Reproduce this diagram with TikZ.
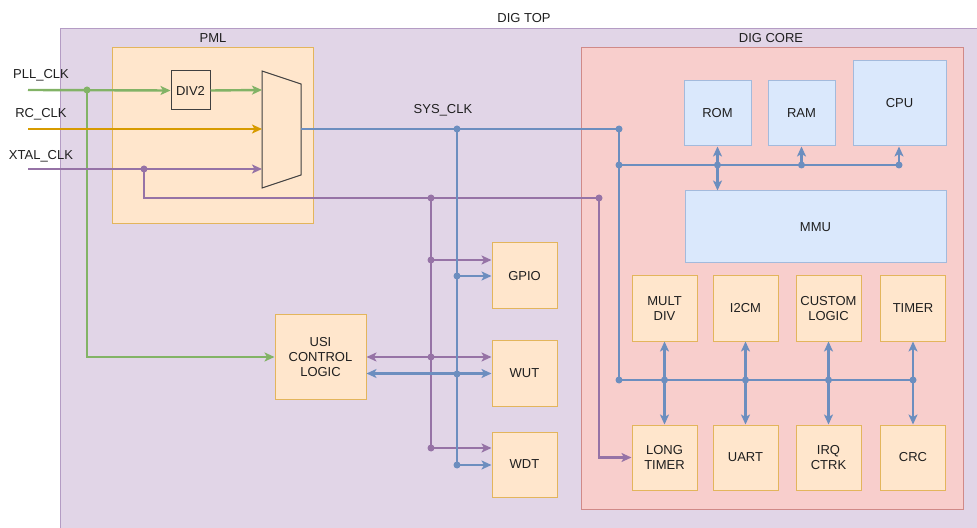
\documentclass[tikz,border=0pt]{standalone}
\usepackage{fontspec}
\setmainfont{Liberation Sans}
\usetikzlibrary{arrows.meta}
\definecolor{pfill}{HTML}{E1D5E7}
\definecolor{pline}{HTML}{B49CC4}
\definecolor{pwire}{HTML}{9673A6}
\definecolor{ofill}{HTML}{FFE6CC}
\definecolor{oline}{HTML}{E3B55C}
\definecolor{owire}{HTML}{D79B00}
\definecolor{rfill}{HTML}{F8CECC}
\definecolor{rline}{HTML}{D08A88}
\definecolor{bfill}{HTML}{DAE8FC}
\definecolor{bline}{HTML}{A3BADC}
\definecolor{bwire}{HTML}{6C8EBF}
\definecolor{gwire}{HTML}{82B366}
\definecolor{txt}{HTML}{1F1F1F}
\tikzset{
  x=1bp, y=-1bp,
  myarr/.tip={Stealth[length=10bp,width=9bp,inset=2.5bp]},
  lbl/.style={text=txt, font=\fontsize{13bp}{15bp}\selectfont, inner sep=0pt, align=center},
  obox/.style={lbl, draw=oline, fill=ofill, line width=1bp, minimum width=65bp, minimum height=65bp},
  bbox/.style={lbl, draw=bline, fill=bfill, line width=1bp},
  pw/.style={draw=pwire, line width=2.4bp},
  bw/.style={draw=bwire, line width=2.4bp},
  gw/.style={draw=gwire, line width=2.4bp},
  ow/.style={draw=owire, line width=2.4bp},
  pdot/.style={circle, fill=pwire, inner sep=0pt, minimum size=7bp},
  bdot/.style={circle, fill=bwire, inner sep=0pt, minimum size=7bp},
  gdot/.style={circle, fill=gwire, inner sep=0pt, minimum size=7bp},
}
\begin{document}
\begin{tikzpicture}
\useasboundingbox (0,0) rectangle (977,528);
\clip (0,0) rectangle (977,528);
\fill[white] (0,0) rectangle (977,528);
% containers
\draw[draw=pline, fill=pfill, line width=1bp] (60,29) rectangle (990,540);
\node[lbl] (digtop) at (524,18) {DIG TOP};
\draw[draw=oline, fill=ofill, line width=1bp] (112,48) rectangle (313,224);
\node[lbl] (pml) at (213,38) {PML};
\draw[draw=rline, fill=rfill, line width=1bp] (581,48) rectangle (963,509);
\node[lbl] (digcore) at (771,38) {DIG CORE};

% input labels
\node[lbl] (pll) at (41,75) {PLL\_CLK};
\node[lbl] (rc) at (41,114) {RC\_CLK};
\node[lbl] (xtal) at (41,156) {XTAL\_CLK};
\node[lbl] (sysclk) at (443,110) {SYS\_CLK};

% boxes
\node[lbl, draw=black!75, fill=ofill, line width=1bp, minimum width=39bp, minimum height=39bp] (div2) at (190.5,90.5) {DIV2};
\draw[draw=black!75, fill=ofill, line width=1bp] (262,71) -- (301,84) -- (301,175) -- (262,188) -- cycle;
\coordinate (mux1) at (262,90);
\coordinate (mux2) at (262,129);
\coordinate (mux3) at (262,169);
\coordinate (muxout) at (301,129);

\node[bbox, minimum width=67bp, minimum height=65bp] (rom) at (717.5,113.5) {ROM};
\node[bbox, minimum width=67bp, minimum height=65bp] (ram) at (801.5,113.5) {RAM};
\node[bbox, minimum width=93bp, minimum height=85bp] (cpu) at (899.5,103.5) {CPU};
\node[bbox, minimum width=261bp, minimum height=72bp] (mmu) at (815.5,227) {MMU};

\node[obox] (md) at (664.5,308.5) {MULT\\DIV};
\node[obox] (i2c) at (745.5,308.5) {I2CM};
\node[obox] (cl) at (828.5,308.5) {CUSTOM\\LOGIC};
\node[obox] (tim) at (913,308.5) {TIMER};
\node[obox] (lt) at (664.5,457.5) {LONG\\TIMER};
\node[obox] (uart) at (745.5,457.5) {UART};
\node[obox] (irq) at (828.5,457.5) {IRQ\\CTRK};
\node[obox] (crc) at (913,457.5) {CRC};

\node[obox, minimum height=66bp] (gpio) at (524.5,276) {GPIO};
\node[obox] (wut) at (524.5,373.5) {WUT};
\node[obox] (wdt) at (524.5,464.5) {WDT};
\node[obox, minimum width=91bp, minimum height=84bp] (usi) at (320.5,357) {USI\\CONTROL\\LOGIC};

% coordinates
\coordinate (pllin) at (28,90);
\coordinate (rcin) at (28,129);
\coordinate (xtin) at (28,169);
\coordinate (pllj) at (87,90);
\coordinate (xtj) at (144,169);
\coordinate (pj1) at (431,198);
\coordinate (pj2) at (599,198);
\coordinate (pj3) at (431,260);
\coordinate (pj4) at (431,357);
\coordinate (pj5) at (431,448);
\coordinate (bj1) at (457,129);
\coordinate (bj2) at (619,129);
\coordinate (bj3) at (619,165);
\coordinate (bj4) at (457,276);
\coordinate (bj5) at (457,374);
\coordinate (bj6) at (457,465);
\coordinate (bus0) at (619,380);
\coordinate (busE) at (913,380);
\coordinate (cpuj) at (899,165);

% green
\draw[gw, -myarr] (pllin) -- (div2.west);
\draw[gw, -myarr] (div2.east) -- (mux1);
\draw[gw, -myarr] (pllj) |- (usi.west);
% orange
\draw[ow, -myarr] (rcin) -- (mux2);
% purple
\draw[pw, -myarr] (xtin) -- (mux3);
\draw[pw, -myarr] (xtj) |- (pj2) |- (lt.west);
\draw[pw] (pj1) -- (pj5);
\draw[pw, -myarr] (pj3) -- (pj3 -| gpio.west);
\draw[pw, myarr-myarr] (usi.east) -- (usi.east -| wut.west);
\draw[pw, -myarr] (pj5) -- (pj5 -| wdt.west);
% blue
\draw[bw] (muxout) -- (bj2) -- (bus0) -- (busE);
\draw[bw] (bj1) -- (bj6);
\draw[bw] (bj3) -- (cpuj);
\draw[bw, -myarr] (bj4) -- (bj4 -| gpio.west);
\draw[bw, myarr-myarr] (wut.west -| usi.east) -- (wut.west);
\draw[bw, -myarr] (bj6) -- (bj6 -| wdt.west);
\draw[bw, -myarr] (rom.south |- bj3) -- (rom.south);
\draw[bw, -myarr] (rom.south |- bj3) -- (rom.south |- mmu.north);
\draw[bw, -myarr] (ram.south |- bj3) -- (ram.south);
\draw[bw, -myarr] (cpuj) -- (cpuj |- cpu.south);
\draw[bw, myarr-myarr] (md.south) -- (lt.north);
\draw[bw, myarr-myarr] (i2c.south) -- (uart.north);
\draw[bw, myarr-myarr] (cl.south) -- (irq.north);
\draw[bw, myarr-myarr] (tim.south) -- (crc.north);

% dots
\node[gdot] (d1) at (pllj) {};
\node[pdot] (d2) at (xtj) {};
\node[pdot] (d3) at (pj1) {};
\node[pdot] (d4) at (pj2) {};
\node[pdot] (d5) at (pj3) {};
\node[pdot] (d6) at (pj4) {};
\node[pdot] (d7) at (pj5) {};
\node[bdot] (d8) at (bj1) {};
\node[bdot] (d9) at (bj2) {};
\node[bdot] (d10) at (bj3) {};
\node[bdot] (d11) at (bj4) {};
\node[bdot] (d12) at (bj5) {};
\node[bdot] (d13) at (bj6) {};
\node[bdot] (d14) at (bus0) {};
\node[bdot] (d15) at (rom.south |- bj3) {};
\node[bdot] (d16) at (ram.south |- bj3) {};
\node[bdot] (d17) at (cpuj) {};
\node[bdot] (d18) at (md.south |- bus0) {};
\node[bdot] (d19) at (i2c.south |- bus0) {};
\node[bdot] (d20) at (cl.south |- bus0) {};
\node[bdot] (d21) at (busE) {};
\end{tikzpicture}
\end{document}
